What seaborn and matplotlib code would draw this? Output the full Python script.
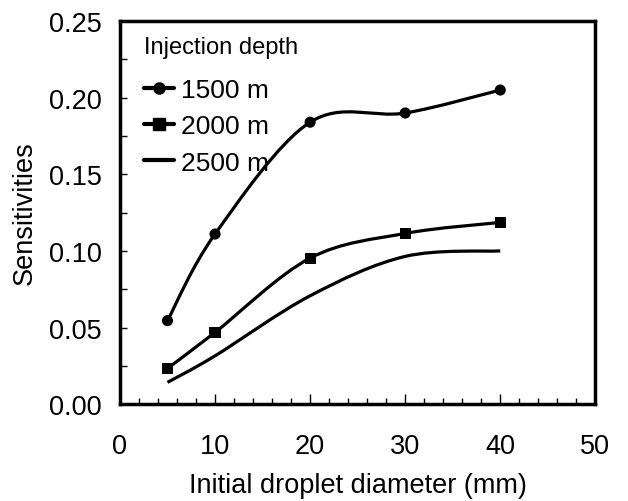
import numpy as np
import pandas as pd
import matplotlib
matplotlib.use("Agg")
import matplotlib.pyplot as plt
import seaborn as sns
from matplotlib.path import Path
from matplotlib.patches import PathPatch
from matplotlib.lines import Line2D
from matplotlib.ticker import MultipleLocator, FormatStrFormatter

# droplet diameter (mm) and sensitivities
diameters = [5, 10, 20, 30, 40]
sens_1500 = [0.0545, 0.111, 0.184, 0.190, 0.205]
sens_2000 = [0.0233, 0.0468, 0.0953, 0.1114, 0.1186]
sens_2500 = [0.0142, 0.0315, 0.0707, 0.0964, 0.1000]
depth_labels = ["1500 m", "2000 m", "2500 m"]
legend_title = "Injection depth"


def smooth_path(xs, ys):
    # Excel-style smoothed line: cubic bezier segments through the points
    pts = np.column_stack([xs, ys]).astype(float)
    n = len(pts)
    verts = [pts[0]]
    codes = [Path.MOVETO]
    for i in range(n - 1):
        p0 = pts[max(i - 1, 0)]
        p1 = pts[i]
        p2 = pts[i + 1]
        p3 = pts[min(i + 2, n - 1)]
        c1 = p1 + (p2 - p0) / 6.0
        c2 = p2 - (p3 - p1) / 6.0
        verts += [c1, c2, p2]
        codes += [Path.CURVE4] * 3
    return Path(verts, codes)


sns.set_style("ticks")
plt.rcParams["font.family"] = ["Liberation Sans", "DejaVu Sans"]
plt.rcParams["text.color"] = "black"
plt.rcParams["axes.labelcolor"] = "black"
plt.rcParams["xtick.color"] = "black"
plt.rcParams["ytick.color"] = "black"

df = pd.DataFrame({
    "diameter": diameters * 2,
    "sens": sens_1500 + sens_2000,
    "depth": [depth_labels[0]] * len(diameters) + [depth_labels[1]] * len(diameters),
})

fig = plt.figure(figsize=(6.28, 5.02), dpi=100)
ax = fig.add_axes([0.191, 0.193, 0.757, 0.763])

for ys in [sens_1500, sens_2000, sens_2500]:
    ax.add_patch(PathPatch(smooth_path(diameters, ys), facecolor="none",
                           edgecolor="black", lw=2.3, zorder=2))

sns.scatterplot(data=df, x="diameter", y="sens", style="depth",
                markers={depth_labels[0]: "o", depth_labels[1]: "s"},
                color="black", s=64, edgecolor="black", linewidth=0,
                legend=False, ax=ax, zorder=3)

ax.set_xlim(0, 50)
ax.set_ylim(0, 0.25)
ax.xaxis.set_major_locator(MultipleLocator(10))
ax.xaxis.set_minor_locator(MultipleLocator(2))
ax.yaxis.set_major_locator(MultipleLocator(0.05))
ax.yaxis.set_minor_locator(MultipleLocator(0.025))
ax.yaxis.set_major_formatter(FormatStrFormatter("%.2f"))

ax.tick_params(axis="x", which="major", direction="in", length=7, width=1,
               pad=21, labelsize=19.5)
ax.tick_params(axis="x", which="minor", direction="in", length=4, width=1)
ax.tick_params(axis="y", which="both", direction="in", length=5, width=1,
               pad=13, labelsize=19.5)
for side in ["top", "right", "left", "bottom"]:
    ax.spines[side].set_visible(True)
    ax.spines[side].set_linewidth(2.5)
    ax.spines[side].set_color("black")

ax.set_xlabel("Initial droplet diameter (mm)", fontsize=19.5, labelpad=9)
ax.set_ylabel("Sensitivities", fontsize=19.5, labelpad=8)

handles = [
    Line2D([], [], color="black", lw=3, marker="o", markersize=8),
    Line2D([], [], color="black", lw=3, marker="s", markersize=8),
    Line2D([], [], color="black", lw=3),
]
leg = ax.legend(handles, depth_labels, title=legend_title, loc="upper left",
                bbox_to_anchor=(0.05, 0.96), frameon=False, fontsize=19,
                title_fontsize=17, handlelength=1.15, handletextpad=0.25,
                labelspacing=0.47, borderpad=0, borderaxespad=0,
                alignment="left")
# extra room between the legend title and the entries
leg._legend_box.sep += 5

fig.savefig("out.png", dpi=100, facecolor="white")
